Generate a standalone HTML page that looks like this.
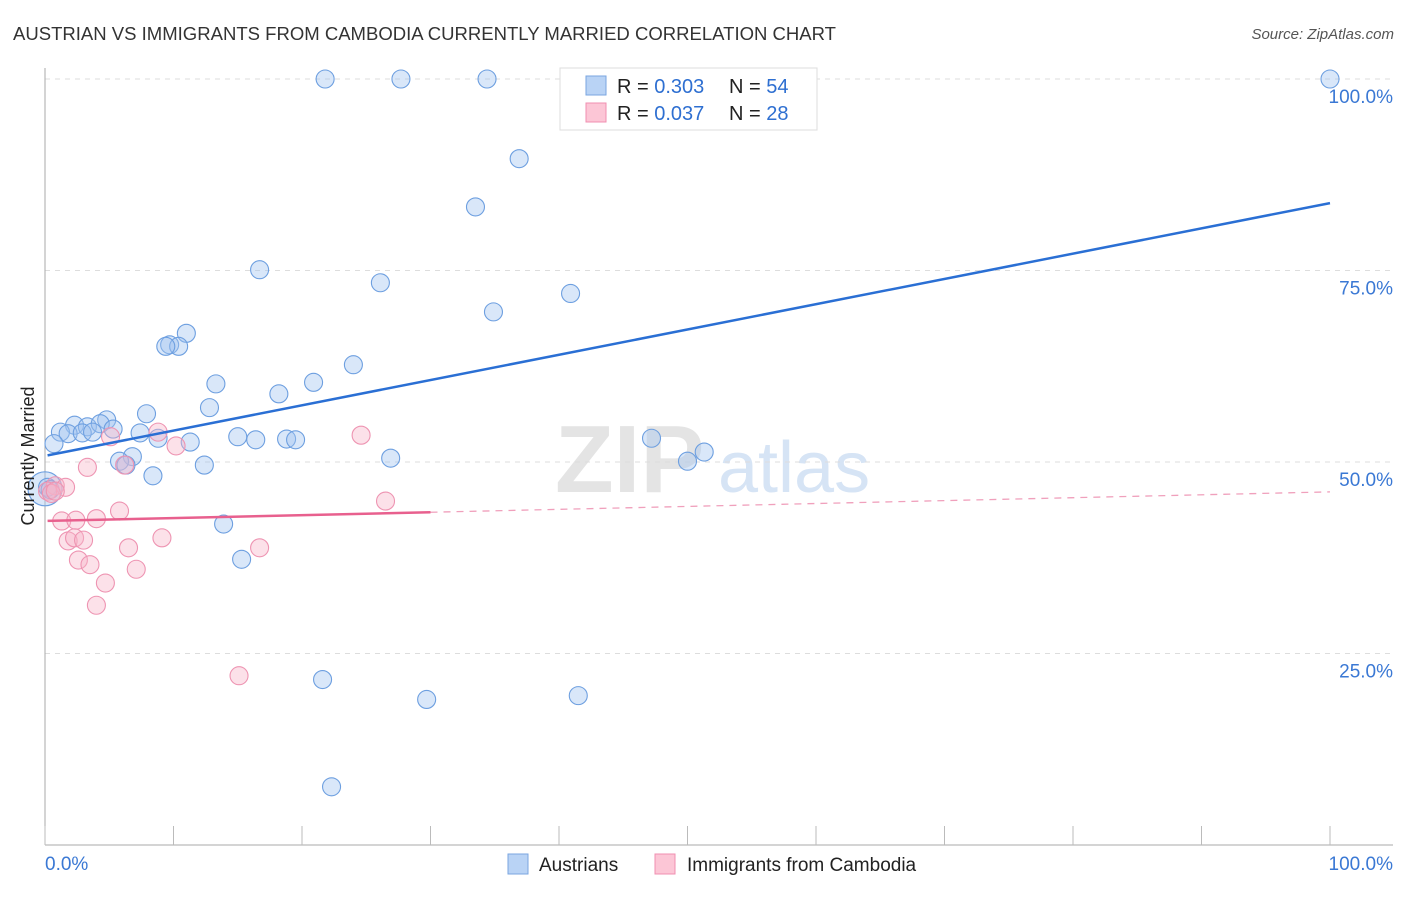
<!DOCTYPE html>
<html><head><meta charset="utf-8"><style>
body{margin:0;background:#fff;font-family:"Liberation Sans",sans-serif;}
svg text{font-family:"Liberation Sans",sans-serif;}
</style></head><body>
<svg id="c" width="1406" height="892" xmlns="http://www.w3.org/2000/svg">
<text x="13" y="40" font-size="18" fill="#333" textLength="823" lengthAdjust="spacingAndGlyphs">AUSTRIAN VS IMMIGRANTS FROM CAMBODIA CURRENTLY MARRIED CORRELATION CHART</text>
<text x="1394" y="39" font-size="15" fill="#555" text-anchor="end" font-style="italic">Source: ZipAtlas.com</text>
<text x="555" y="492" font-size="96" font-family="Liberation Serif" fill="#e4e4e4" font-weight="bold">ZIP</text>
<text x="718" y="492" font-size="72" fill="#d6e4f5">atlas</text>
<g id="grid"></g>
<g id="axes"></g>
<g id="marks"></g>
<text transform="translate(34,456) rotate(-90)" font-size="18" fill="#222" text-anchor="middle">Currently Married</text>
<g>
<rect x="560" y="68" width="257" height="62" fill="#fff" stroke="#ddd"/>
<rect x="586" y="76" width="20" height="19" fill="#b9d3f5" stroke="#7aa6e0"/>
<rect x="586" y="103" width="20" height="19" fill="#fcc6d6" stroke="#f08fb0"/>
<text x="617" y="93" font-size="20" fill="#222">R = <tspan fill="#2e6fd1">0.303</tspan></text>
<text x="729" y="93" font-size="20" fill="#222">N = <tspan fill="#2e6fd1">54</tspan></text>
<text x="617" y="120" font-size="20" fill="#222">R = <tspan fill="#2e6fd1">0.037</tspan></text>
<text x="729" y="120" font-size="20" fill="#222">N = <tspan fill="#2e6fd1">28</tspan></text>
</g>
<g>
<rect x="508" y="854" width="20" height="20" fill="#b9d3f5" stroke="#7aa6e0"/>
<text x="539" y="871" font-size="19" fill="#222">Austrians</text>
<rect x="655" y="854" width="20" height="20" fill="#fcc6d6" stroke="#f08fb0"/>
<text x="687" y="871" font-size="19" fill="#222">Immigrants from Cambodia</text>
</g>
</svg>
<script>
const blueX=[21.8,27.7,34.4,100,36.9,33.5,16.7,26.1,40.9,34.9,11,9.7,10.4,9.4,24,13.3,20.9,18.2,12.8,7.9,4.8,2.3,3.3,4.3,5.3,1.2,1.8,2.9,3.7,7.4,8.8,11.3,15,16.4,18.8,19.5,0.7,47.2,6.8,5.8,6.3,12.4,26.9,51.3,50.0,8.4,0.2,13.9,15.3,21.6,41.5,29.7,22.3,0.4];
const blueY=[100,100,100,100,89.6,83.3,75.1,73.4,72,69.6,66.8,65.3,65.1,65.1,62.7,60.2,60.4,58.9,57.1,56.3,55.5,54.8,54.6,55,54.3,53.9,53.7,53.8,53.9,53.8,53.1,52.6,53.3,52.9,53,52.9,52.4,53.1,50.7,50.1,49.6,49.6,50.5,51.3,50.1,48.2,46.7,41.9,37.3,21.6,19.5,19,7.6,46.4];
const pinkX=[0.8,1.6,0.2,0.5,3.3,5.1,8.8,10.2,6.2,24.6,26.5,5.8,1.3,2.4,4,9.1,1.8,2.3,3,6.5,16.7,2.6,3.5,7.1,4.7,4,15.1,0.8];
const pinkY=[46.9,46.7,46.2,45.9,49.3,53.3,53.9,52.1,49.6,53.5,44.9,43.6,42.3,42.4,42.6,40.1,39.7,40.1,39.8,38.8,38.8,37.2,36.6,36,34.2,31.3,22.1,46.2];
const blueTrend=[50.8,83.8]; // y at x=0 and x=100
const pinkTrend=[42.3,46.1];
const pinkSolidEnd=30;
const yTicks=[25,50,75,100];
const yTickLabels=["25.0%","50.0%","75.0%","100.0%"];
const xTicks=[0,10,20,30,40,50,60,70,80,90,100];

const NS="http://www.w3.org/2000/svg";
const sx=v=>45+v*12.85, sy=v=>845-v*7.66;
function mk(tag,at,parent){const e=document.createElementNS(NS,tag);for(const k in at)e.setAttribute(k,at[k]);document.getElementById(parent).appendChild(e);return e;}
yTicks.forEach((t,i)=>{
 const g=mk('line',{x1:45,x2:1393,y1:sy(t),y2:sy(t),stroke:'#ddd','stroke-dasharray':'5,5'},'grid');
 
 
 const tx=mk('text',{x:1393,y:sy(t)+24,'font-size':19,fill:'#3a78d4','text-anchor':'end'},'axes');
 tx.textContent=yTickLabels[i];
 
 
});
const ya=mk('line',{x1:45,x2:45,y1:68,y2:845,stroke:'#aaa'},'axes');


const xa=mk('line',{x1:45,x2:1393,y1:845,y2:845,stroke:'#aaa'},'axes');


xTicks.forEach(t=>{
 const l=mk('line',{x1:sx(t),x2:sx(t),y1:826,y2:845,stroke:'#bbb'},'axes');
 
 
});
const x0=mk('text',{x:45,y:870,'font-size':19,fill:'#3a78d4'},'axes');x0.textContent='0.0%';


const x1=mk('text',{x:1393,y:870,'font-size':19,fill:'#3a78d4','text-anchor':'end'},'axes');x1.textContent='100.0%';



const big=mk('circle',{cx:sx(0),cy:sy(46.5),r:17,fill:'rgba(160,195,240,0.4)',stroke:'#6d9fe0','stroke-width':1.2},'marks');


blueX.forEach((x,i)=>{
 const c=mk('circle',{cx:sx(x),cy:sy(blueY[i]),r:9,fill:'rgba(160,195,240,0.4)',stroke:'#6d9fe0','stroke-width':1.1},'marks');
 
 
});
pinkX.forEach((x,i)=>{
 const c=mk('circle',{cx:sx(x),cy:sy(pinkY[i]),r:9,fill:'rgba(248,180,200,0.4)',stroke:'#ee94b2','stroke-width':1.1},'marks');
 
 
});
const bt=mk('line',{x1:sx(0.2),y1:sy(blueTrend[0]+0.2*(blueTrend[1]-blueTrend[0])/100),x2:sx(100),y2:sy(blueTrend[1]),stroke:'#2a6fd4','stroke-width':2.5},'marks');


const pAt=x=>pinkTrend[0]+x*(pinkTrend[1]-pinkTrend[0])/100;
const pt=mk('line',{x1:sx(0.2),y1:sy(pAt(0.2)),x2:sx(pinkSolidEnd),y2:sy(pAt(pinkSolidEnd)),stroke:'#e8608e','stroke-width':2.5},'marks');


const pd=mk('line',{x1:sx(pinkSolidEnd),y1:sy(pAt(pinkSolidEnd)),x2:sx(100),y2:sy(pAt(100)),stroke:'#f0a0bc','stroke-width':1.3,'stroke-dasharray':'7,6'},'marks');


</script>
</body></html>
